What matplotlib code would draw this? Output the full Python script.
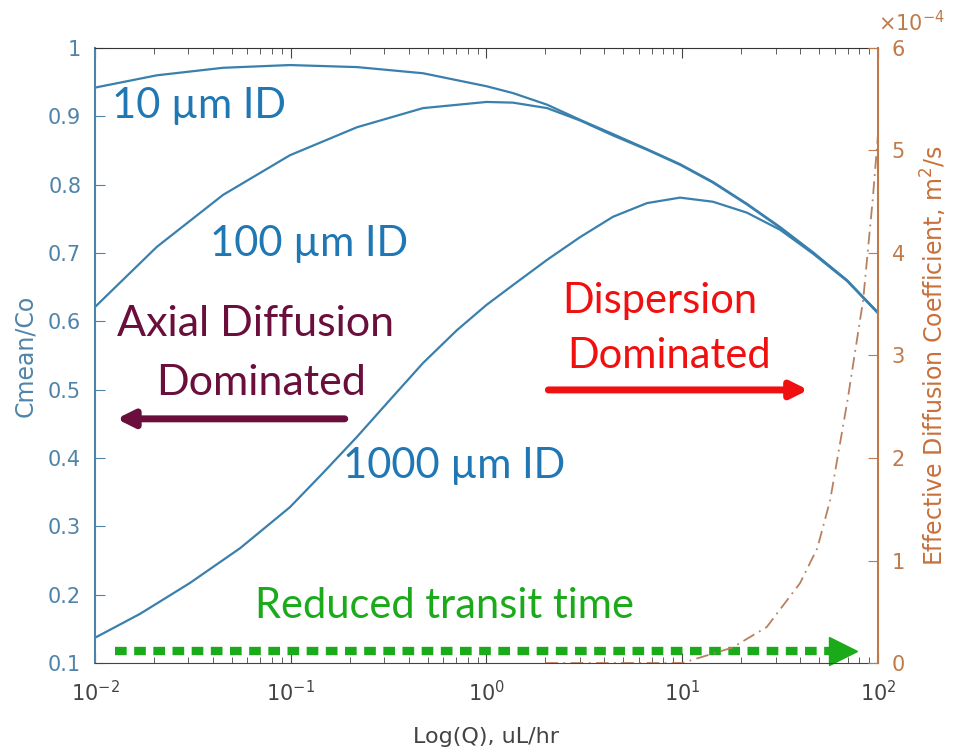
import numpy as np
import matplotlib
matplotlib.use('Agg')
from matplotlib import pyplot as plt
from matplotlib.ticker import FixedLocator, LogLocator, NullFormatter

# flow rate, uL/hr
q_a = [0.01, 0.0207, 0.0451, 0.099, 0.218, 0.474, 1.0, 1.365, 2.04, 3.0, 4.43, 6.61,
       9.75, 14.35, 21.4, 31.6, 46.6, 69.5, 100]
c_10um = [0.942, 0.960, 0.971, 0.975, 0.972, 0.963, 0.944, 0.934, 0.917, 0.895, 0.874,
          0.852, 0.830, 0.804, 0.772, 0.738, 0.701, 0.660, 0.613]
c_100um = [0.621, 0.709, 0.785, 0.843, 0.884, 0.912, 0.921, 0.920, 0.912, 0.894, 0.872,
           0.851, 0.829, 0.803, 0.771, 0.737, 0.700, 0.660, 0.612]

q_b = [0.01, 0.017, 0.0305, 0.0551, 0.099, 0.146, 0.218, 0.321, 0.474, 0.706, 1.0, 1.365,
       2.04, 3.0, 4.43, 6.61, 9.75, 14.35, 21.4, 31.6, 46.6, 69.5, 100]
c_1000um = [0.137, 0.172, 0.217, 0.268, 0.328, 0.378, 0.431, 0.485, 0.539, 0.587, 0.624,
            0.653, 0.690, 0.723, 0.753, 0.773, 0.781, 0.775, 0.759, 0.734, 0.699, 0.659, 0.612]

# effective diffusion coefficient, x1e-4 m^2/s
dq = [2, 10, 18, 27, 40, 49, 57, 70, 84, 94, 100]
d_eff = [0, 0, 0.15, 0.35, 0.78, 1.12, 1.59, 2.57, 3.54, 4.52, 5.15]

yticks_left = [0.1, 0.2, 0.3, 0.4, 0.5, 0.6, 0.7, 0.8, 0.9, 1]
ylabels_left = ['0.1', '0.2', '0.3', '0.4', '0.5', '0.6', '0.7', '0.8', '0.9', '1']
yticks_right = [0, 1, 2, 3, 4, 5, 6]

blue_ax = '#4f84a8'
line_col = '#3a80ad'
brown = '#c07a4a'
txt_font = 'Lato'

plt.rcParams['font.family'] = ['DejaVu Sans']

fig = plt.figure(figsize=(9.54, 7.53), dpi=100)
ax = fig.add_axes([0.0996, 0.1195, 0.8207, 0.8168])

ax.plot(q_a, c_10um, color=line_col, lw=1.6)
ax.plot(q_a, c_100um, color=line_col, lw=1.6)
ax.plot(q_b, c_1000um, color=line_col, lw=1.6)

ax.set_xscale('log')
ax.set_xlim(0.01, 100)
ax.set_ylim(0.1, 1)
ax.yaxis.set_major_locator(FixedLocator(yticks_left))
ax.set_yticklabels(ylabels_left)
ax.xaxis.set_major_locator(LogLocator(base=10, numticks=10))
ax.xaxis.set_minor_locator(LogLocator(base=10, subs=np.arange(2, 10), numticks=10))
ax.xaxis.set_minor_formatter(NullFormatter())
ax.tick_params(axis='x', which='both', direction='in', top=True, colors='#444444',
               labelsize=15, pad=12)
ax.tick_params(axis='x', which='major', length=7)
ax.tick_params(axis='x', which='minor', length=4)
ax.tick_params(axis='y', direction='in', length=7, colors=blue_ax, labelsize=15, pad=10)
ax.spines['left'].set_color(blue_ax)
ax.spines['left'].set_linewidth(1.5)
ax.spines['top'].set_color('#333333')
ax.spines['bottom'].set_color('#444444')
ax.spines['right'].set_visible(False)
ax.set_ylabel('Cmean/Co', color=blue_ax, fontsize=17, labelpad=8)
ax.set_xlabel('Log(Q), uL/hr', color='#444444', fontsize=16, labelpad=16)

ax2 = ax.twinx()
ax2.plot(dq, d_eff, color='#b9805f', lw=1.3, ls=(0, (7, 3, 1, 3)))
ax2.set_ylim(0, 6)
ax2.yaxis.set_major_locator(FixedLocator(yticks_right))
ax2.tick_params(axis='y', direction='in', length=7, colors=brown, labelsize=15, pad=10)
for s in ['left', 'top', 'bottom']:
    ax2.spines[s].set_visible(False)
ax2.spines['right'].set_color(brown)
ax2.spines['right'].set_linewidth(1.5)
ax2.set_ylabel('Effective Diffusion Coefficient, m$^2$/s', color='#c8703a',
               fontsize=17, labelpad=10)
ax2.text(1.0, 1.02, r'$\times$10$^{-4}$', transform=ax2.transAxes, color=brown,
         fontsize=15, ha='left', va='bottom')

# annotations
fs = 30
ax.text(0.022, 0.905, '10 \u00b5m ID', transform=ax.transAxes, color='#1f77b4',
        fontsize=fs, family=txt_font, va='center')
ax.text(0.147, 0.681, '100 \u00b5m ID', transform=ax.transAxes, color='#1f77b4',
        fontsize=fs, family=txt_font, va='center')
ax.text(0.317, 0.320, '1000 \u00b5m ID', transform=ax.transAxes, color='#1f77b4',
        fontsize=fs, family=txt_font, va='center')

maroon = '#6a0f3c'
ax.text(0.2045, 0.552, 'Axial Diffusion', transform=ax.transAxes, color=maroon,
        fontsize=31, family=txt_font, ha='center', va='center')
ax.text(0.212, 0.455, 'Dominated', transform=ax.transAxes, color=maroon,
        fontsize=31, family=txt_font, ha='center', va='center')
ax.annotate('', xy=(0.0275, 0.397), xytext=(0.319, 0.397), xycoords='axes fraction',
            arrowprops=dict(arrowstyle='-|>', color=maroon, lw=5, mutation_scale=25,
                            shrinkA=0, shrinkB=0))

red = '#f01010'
ax.text(0.7216, 0.588, 'Dispersion', transform=ax.transAxes, color=red,
        fontsize=fs, family=txt_font, ha='center', va='center')
ax.text(0.733, 0.499, 'Dominated', transform=ax.transAxes, color=red,
        fontsize=fs, family=txt_font, ha='center', va='center')
ax.annotate('', xy=(0.911, 0.444), xytext=(0.579, 0.444), xycoords='axes fraction',
            arrowprops=dict(arrowstyle='-|>', color=red, lw=5, mutation_scale=25,
                            shrinkA=0, shrinkB=0))

green = '#1aaa1a'
ax.text(0.204, 0.092, 'Reduced transit time', transform=ax.transAxes, color=green,
        fontsize=fs, family=txt_font, va='center')
ax.plot([0.0255, 0.94], [0.0195, 0.0195], transform=ax.transAxes, color=green, lw=6,
        ls=(0, (1.4, 0.9)), dash_capstyle='butt', clip_on=False)
ax.plot([0.955], [0.0195], transform=ax.transAxes, color=green, marker='>', ms=20,
        ls='none', clip_on=False)

fig.savefig('out.png', dpi=100)
